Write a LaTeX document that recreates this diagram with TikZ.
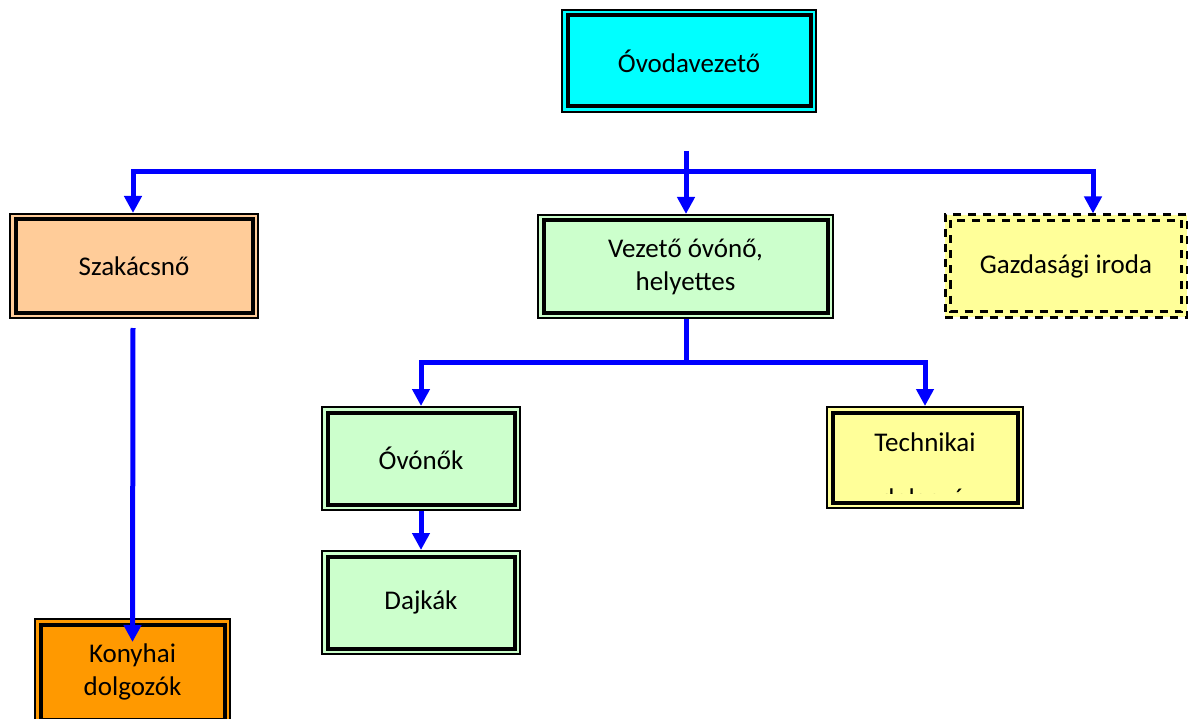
\documentclass[tikz,border=0pt]{standalone}
\usepackage{fontspec}
\setmainfont{Carlito}
\usetikzlibrary{arrows.meta}
\definecolor{cyanfill}{HTML}{00FFFF}
\definecolor{peach}{HTML}{FFCC99}
\definecolor{lgreen}{HTML}{CCFFCC}
\definecolor{lyellow}{HTML}{FFFF99}
\definecolor{orangefill}{HTML}{FF9900}
\definecolor{arrowblue}{HTML}{0000FF}
\begin{document}
\begin{tikzpicture}[x=1pt,y=-1pt,
  orgbox/.style={draw=black, line width=2pt, inner sep=0pt, align=center,
    font=\fontsize{27}{33}\selectfont,
    path picture={\draw[black, line width=4pt, solid]
      ([shift={(5.5pt,-5.5pt)}]path picture bounding box.north west) rectangle
      ([shift={(-5.5pt,5.5pt)}]path picture bounding box.south east);}},
  dashbox/.style={draw=black, line width=3pt, dash pattern=on 8pt off 7pt,
    inner sep=0pt, align=center, font=\fontsize{27}{33}\selectfont,
    path picture={\draw[black, line width=3pt, dash pattern=on 8pt off 7pt]
      ([shift={(5.5pt,-5.5pt)}]path picture bounding box.north west) rectangle
      ([shift={(-5.5pt,5.5pt)}]path picture bounding box.south east);}},
  conn/.style={draw=arrowblue, line width=5pt, line join=miter},
  arr/.style={conn, -{Triangle[width=17pt,length=17pt]}}
]
\useasboundingbox (0,0) rectangle (1188,719);

\node[orgbox, fill=cyanfill, minimum width=254pt, minimum height=102pt] (top) at (689,61) {Óvodavezető};
\node[orgbox, fill=peach, minimum width=248pt, minimum height=104pt] (szak) at (134,266) {Szakácsnő};
\node[orgbox, fill=lgreen, minimum width=295pt, minimum height=103pt] (vez) at (685.5,266.5) {Vezető óvónő,\\helyettes};
\node[dashbox, fill=lyellow, minimum width=242pt, minimum height=102pt] (gazd) at (1066,266) {Gazdasági iroda};
\node[orgbox, fill=lgreen, minimum width=198pt, minimum height=103pt] (ovonok) at (421,458.5) {Óvónők};
\node[orgbox, fill=lyellow, minimum width=196pt, minimum height=101pt] (tech) at (925,457.5) {};
\node[font=\fontsize{27}{33}\selectfont, inner sep=0pt] (techtitle) at (925,442) {Technikai};
\begin{scope}
  \clip (870,488) rectangle (990,493);
  \node[font=\fontsize{27}{33}\selectfont, inner sep=0pt, anchor=base] (techsub) at (923,507.5) {dolgozó};
\end{scope}
\node[orgbox, fill=lgreen, minimum width=198pt, minimum height=103pt] (dajk) at (421,602.5) {Dajkák};
\node[orgbox, fill=orangefill, minimum width=195pt, minimum height=106pt] (kony) at (132.5,672) {Konyhai\\dolgozók};

\coordinate (hy) at (686,172);
\coordinate (hy2) at (686,362);
\draw[arr] ([yshift=-38pt]top.south -| hy) -- (vez.north -| hy);
\draw[arr] (hy) -| ([xshift=-1pt]szak.north);
\draw[arr] (hy) -| ([xshift=27pt]gazd.north);
\draw[conn] (vez.south -| hy2) -- (hy2);
\draw[arr] (hy2) -| (ovonok.north);
\draw[arr] (hy2) -| (tech.north);
\draw[arr] (ovonok.south) -- (dajk.north);
\draw[arr] ([xshift=-1pt,yshift=-9pt]szak.south) -- ([yshift=-24pt]kony.north);
\end{tikzpicture}
\end{document}
